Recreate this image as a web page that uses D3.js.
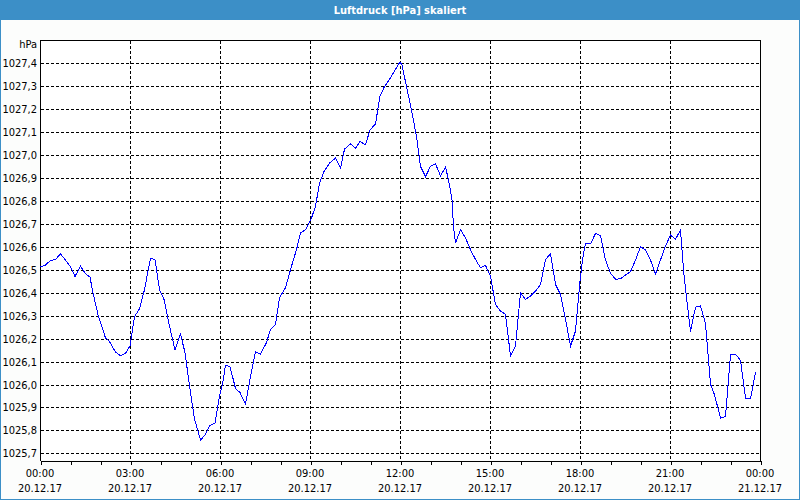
<!DOCTYPE html>
<html>
<head>
<meta charset="utf-8">
<script src="https://cdn.jsdelivr.net/npm/d3@7"></script>
<style>
  html, body { margin: 0; padding: 0; background: #fcfdfc; }
  svg { display: block; }
  text { font-family: "Liberation Sans Narrow", "DejaVu Sans Condensed", "Liberation Sans", Arial, sans-serif; }
</style>
</head>
<body>
<script>
// ---- data ----
const title = "Luftdruck [hPa] skaliert";
const unitLabel = "hPa";
const startDate = "2017-12-20T00:00:00";
// minutes after start
const minutes = [
  0, 10, 21, 31, 41, 51, 61, 70, 81, 91, 100, 106, 116, 131, 138, 151, 161, 171, 180, 189,
  199, 209, 221, 230, 239, 248, 259, 270, 281, 290, 299, 309, 321, 330, 339, 350, 359, 365,
  371, 380, 391, 400, 411, 420, 431, 441, 453, 461, 471, 479, 491, 503, 513, 521, 531, 543,
  551, 559, 568, 579, 591, 601, 609, 621, 631, 640, 651, 660, 671, 680, 689, 699, 711, 720,
  724, 733, 743, 753, 761, 771, 781, 791, 801, 811, 817, 824, 827, 831, 841, 851, 861, 871,
  881, 891, 901, 911, 921, 931, 941, 951, 961, 971, 981, 991, 1001, 1011, 1021, 1031, 1041,
  1051, 1061, 1071, 1080, 1085, 1091, 1101, 1111, 1121, 1131, 1141, 1151, 1161, 1171, 1181,
  1191, 1201, 1211, 1221, 1231, 1241, 1251, 1261, 1271, 1281, 1287, 1292, 1301, 1311, 1321,
  1331, 1341, 1349, 1361, 1371, 1381, 1391, 1401, 1411, 1421, 1431
];
const pressure = [
  1026.513, 1026.519, 1026.541, 1026.545, 1026.570, 1026.542, 1026.513, 1026.471, 1026.516, 1026.483,
  1026.468, 1026.400, 1026.304, 1026.203, 1026.191, 1026.142, 1026.125, 1026.136, 1026.168, 1026.296,
  1026.330, 1026.414, 1026.551, 1026.545, 1026.414, 1026.371, 1026.255, 1026.151, 1026.220, 1026.139,
  1025.994, 1025.849, 1025.758, 1025.780, 1025.820, 1025.832, 1025.951, 1026.000,
  1026.084, 1026.078, 1025.983, 1025.965, 1025.914, 1026.023, 1026.142, 1026.132, 1026.183, 1026.241,
  1026.262, 1026.378, 1026.422, 1026.516, 1026.588, 1026.661, 1026.675, 1026.726,
  1026.777, 1026.878, 1026.929, 1026.965, 1026.987, 1026.943, 1027.026, 1027.049, 1027.030, 1027.059,
  1027.045, 1027.110, 1027.136, 1027.258, 1027.299, 1027.330, 1027.374, 1027.407,
  1027.393, 1027.299, 1027.197, 1027.081, 1026.951, 1026.907, 1026.951, 1026.962, 1026.910, 1026.948,
  1026.893, 1026.806, 1026.690, 1026.617, 1026.675, 1026.639, 1026.588, 1026.545,
  1026.509, 1026.519, 1026.472, 1026.349, 1026.320, 1026.306, 1026.125, 1026.168, 1026.400, 1026.371,
  1026.386, 1026.407, 1026.436, 1026.545, 1026.571, 1026.436, 1026.393,
  1026.284, 1026.168, 1026.233, 1026.449, 1026.545, 1026.616, 1026.613, 1026.659, 1026.648, 1026.543,
  1026.485, 1026.459, 1026.461, 1026.478, 1026.492,
  1026.543, 1026.601, 1026.587, 1026.543, 1026.482, 1026.543, 1026.604, 1026.652, 1026.633, 1026.674,
  1026.500, 1026.398, 1026.231, 1026.337, 1026.343,
  1026.267, 1026.002, 1025.955, 1025.854, 1025.861, 1026.130, 1026.133, 1026.105, 1025.941, 1025.937, 1026.053
];
const yTicks = [1025.7, 1025.8, 1025.9, 1026.0, 1026.1, 1026.2, 1026.3, 1026.4, 1026.5, 1026.6,
                1026.7, 1026.8, 1026.9, 1027.0, 1027.1, 1027.2, 1027.3, 1027.4];
const yDomain = [1025.671, 1027.502];
const xDomain = ["2017-12-20T00:00:00", "2017-12-21T00:00:00"];

// ---- chart ----
const W = 800, H = 500;
const m = { left: 40, top: 40, right: 760, bottom: 460 };
const blue = "#3c8fc7";

const svg = d3.select("body").append("svg").attr("width", W).attr("height", H);

svg.append("rect").attr("x", 0).attr("y", 0).attr("width", W).attr("height", H).attr("fill", "#fcfdfc");
svg.append("rect").attr("x", 0).attr("y", 0).attr("width", W).attr("height", 20).attr("fill", blue);
svg.append("rect").attr("x", 0.5).attr("y", 0.5).attr("width", W - 1).attr("height", H - 1)
  .attr("fill", "none").attr("stroke", blue).attr("stroke-width", 1);
svg.append("text").attr("x", W / 2).attr("y", 14).attr("text-anchor", "middle")
  .attr("fill", "#ffffff").attr("font-size", "11px").attr("font-weight", "bold").text(title);

const base = new Date(startDate);
const data = minutes.map((mm, i) => ({ t: new Date(base.getTime() + mm * 60000), v: pressure[i] }));

const x = d3.scaleTime().domain(xDomain.map(d => new Date(d))).range([m.left, m.right]);
const y = d3.scaleLinear().domain(yDomain).range([m.bottom, m.top]);

const crisp = v => Math.round(v) + 0.5;

// plot background
svg.append("rect").attr("x", m.left).attr("y", m.top).attr("width", m.right - m.left).attr("height", m.bottom - m.top)
  .attr("fill", "#ffffff");

// grid
const grid = svg.append("g").attr("stroke", "#000").attr("stroke-dasharray", "3,2")
  .attr("shape-rendering", "crispEdges");
grid.selectAll("line.h").data(yTicks).join("line")
  .attr("x1", m.left + 1).attr("x2", m.right)
  .attr("y1", d => crisp(y(d))).attr("y2", d => crisp(y(d)));
const majorTimes = x.ticks(d3.timeHour.every(3));
grid.selectAll("line.v").data(majorTimes.filter((d, i) => i > 0 && i < majorTimes.length - 1)).join("line")
  .attr("y1", m.top + 1).attr("y2", m.bottom)
  .attr("x1", d => crisp(x(d))).attr("x2", d => crisp(x(d)));

// frame
const frame = svg.append("g").attr("stroke", "#000").attr("fill", "none").attr("shape-rendering", "crispEdges");
frame.append("path").attr("d", `M${crisp(m.left)},${crisp(m.bottom)}V${crisp(m.top)}H${crisp(m.right)}V${crisp(m.bottom)}`);

// x axis
const xAxis = svg.append("g").attr("transform", `translate(0.5,${crisp(m.bottom)})`)
  .attr("shape-rendering", "crispEdges");
xAxis.call(d3.axisBottom(x).ticks(d3.timeHour.every(1)).tickSize(4).tickFormat(""));
xAxis.select(".domain").attr("stroke", "#000");
xAxis.selectAll(".tick line").attr("stroke", "#000");

const labels = svg.append("g").attr("font-size", "11px").attr("fill", "#000").attr("text-anchor", "middle");
const fmtTime = d3.timeFormat("%H:%M"), fmtDate = d3.timeFormat("%d.%m.%y");
labels.selectAll("text.t").data(majorTimes).join("text")
  .attr("x", d => x(d)).attr("y", 477).text(d => fmtTime(d));
labels.selectAll("text.d").data(majorTimes).join("text")
  .attr("x", d => x(d)).attr("y", 492).text(d => fmtDate(d));

// y labels
const fmtY = v => d3.format(".1f")(v).replace(".", ",");
const yl = svg.append("g").attr("font-size", "11px").attr("fill", "#000").attr("text-anchor", "end");
yl.selectAll("text").data(yTicks).join("text")
  .attr("x", 37).attr("y", d => y(d) + 4).text(d => fmtY(d));
yl.append("text").attr("x", 37).attr("y", 48).text(unitLabel);

// line
const line = d3.line().x(d => x(d.t)).y(d => y(d.v));
svg.append("path").datum(data).attr("d", line)
  .attr("fill", "none").attr("stroke", "#0000ff").attr("stroke-width", 1)
  .attr("shape-rendering", "crispEdges");
</script>
</body>
</html>
